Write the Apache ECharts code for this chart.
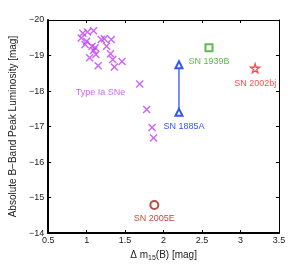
<!DOCTYPE html>
<html><head><meta charset="utf-8">
<script src="https://cdn.jsdelivr.net/npm/echarts@6/dist/echarts.min.js"></script>
<style>html,body{margin:0;padding:0;background:#fff}#c{width:308px;height:267px}</style>
</head><body><div id="c"></div>
<script>
const xTicks = [0.5, 1, 1.5, 2, 2.5, 3, 3.5];
const yTicks = [-20, -19, -18, -17, -16, -15, -14];
const typeIa = [
  [0.95,-19.63],[1.01,-19.66],[1.09,-19.70],[0.93,-19.49],[1.00,-19.40],[0.98,-19.31],
  [1.07,-19.26],[1.11,-19.22],[1.09,-19.14],[1.04,-18.94],[1.12,-19.03],[1.19,-19.45],
  [1.23,-19.47],[1.32,-19.45],[1.26,-19.26],[1.31,-19.05],[1.34,-18.89],[1.46,-18.83],
  [1.36,-18.68],[1.15,-18.71],[1.69,-18.20],[1.78,-17.48],[1.85,-16.97],[1.87,-16.68]
];
const sn1939B = [[2.59,-19.22]];
const sn2002bj = [[3.19,-18.64]];
const sn1885A = [[2.20,-18.74],[2.20,-17.40]];
const sn2005E = [[1.88,-14.79]];
const typeIaLabelPos = [[1.18,-17.97]];

const FONT = 'Liberation Sans, Arial, sans-serif';
const chart = echarts.init(document.getElementById('c'));
const minus = v => String(v).replace('-', '\u2212');
const boxAxis = (w) => ({
  axisLine: {show: true, onZero: false, lineStyle: {color: '#000', width: w}},
  axisTick: {show: true, inside: true, length: 3, lineStyle: {color: '#000', width: 1}},
  splitLine: {show: false}
});
chart.setOption({
  animation: false,
  textStyle: {fontFamily: FONT},
  grid: {left: 40, top: 20, right: 29, bottom: 30},
  xAxis: [
    Object.assign({type: 'value', min: 0.5, max: 3.5, interval: 0.5, position: 'bottom',
      axisLabel: {fontSize: 9, color: '#222', margin: 3, fontFamily: FONT,
        formatter: v => xTicks.includes(v) ? String(v) : ''},
      name: '{a|\u0394 m}{s|15}{a|(B) [mag]}', nameLocation: 'middle', nameGap: 16,
      nameTextStyle: {rich: {
        a: {fontSize: 10, color: '#222', fontFamily: FONT, lineHeight: 14, verticalAlign: 'top'},
        s: {fontSize: 7, color: '#222', fontFamily: FONT, lineHeight: 14, verticalAlign: 'top', padding: [5, 0, 0, 0]}
      }}
    }, boxAxis(2)),
    Object.assign({type: 'value', min: 0.5, max: 3.5, interval: 0.5, position: 'top',
      axisLabel: {show: false}}, boxAxis(1))
  ],
  yAxis: [
    Object.assign({type: 'value', min: -20, max: -14, interval: 1, inverse: true, position: 'left',
      axisLabel: {fontSize: 9, color: '#222', margin: 4, fontFamily: FONT,
        formatter: v => yTicks.includes(v) ? minus(v) : ''},
      name: 'Absolute B\u2212Band Peak Luminosity [mag]', nameLocation: 'middle', nameGap: 22,
      nameTextStyle: {fontSize: 10, color: '#222', fontFamily: FONT}
    }, boxAxis(2)),
    Object.assign({type: 'value', min: -20, max: -14, interval: 1, inverse: true, position: 'right',
      axisLabel: {show: false}}, boxAxis(1))
  ],
  series: [
    {type: 'scatter', data: typeIa, symbol: 'path://M0,0L10,10M10,0L0,10', symbolSize: 7,
      itemStyle: {color: 'none', borderColor: '#c03cf5', borderWidth: 1.4}},
    {type: 'scatter', data: typeIaLabelPos, symbolSize: 0,
      label: {show: true, position: 'inside', formatter: 'Type Ia SNe', fontSize: 9, color: '#c03cf5', fontFamily: FONT}},
    {type: 'line', data: sn1885A, symbol: 'emptyTriangle', symbolSize: 7, showSymbol: true,
      lineStyle: {color: '#3355ff', width: 1.3}, itemStyle: {color: '#3355ff', borderWidth: 1.2},
      label: {show: true, position: 'bottom', distance: 5, offset: [5, 0], fontSize: 9, color: '#3355ff', fontFamily: FONT,
        formatter: p => p.dataIndex === 1 ? 'SN 1885A' : ''}},
    {type: 'scatter', data: sn1939B, symbol: 'emptyRect', symbolSize: 7,
      itemStyle: {color: '#33aa22', borderWidth: 1.3},
      label: {show: true, position: 'bottom', distance: 5, formatter: 'SN 1939B', fontSize: 9, color: '#33aa22', fontFamily: FONT}},
    {type: 'scatter', data: sn2002bj, symbol: 'path://M50,0L61,35L98,35L68,57L79,91L50,70L21,91L32,57L2,35L39,35Z', symbolSize: 9,
      itemStyle: {color: 'none', borderColor: '#ff2222', borderWidth: 1.3},
      label: {show: true, position: 'bottom', distance: 4, formatter: 'SN 2002bj', fontSize: 9, color: '#ff2222', fontFamily: FONT}},
    {type: 'scatter', data: sn2005E, symbol: 'emptyCircle', symbolSize: 8,
      itemStyle: {color: '#a82010', borderWidth: 1.3},
      label: {show: true, position: 'bottom', distance: 4, formatter: 'SN 2005E', fontSize: 9, color: '#a82010', fontFamily: FONT}}
  ]
});
</script></body></html>
